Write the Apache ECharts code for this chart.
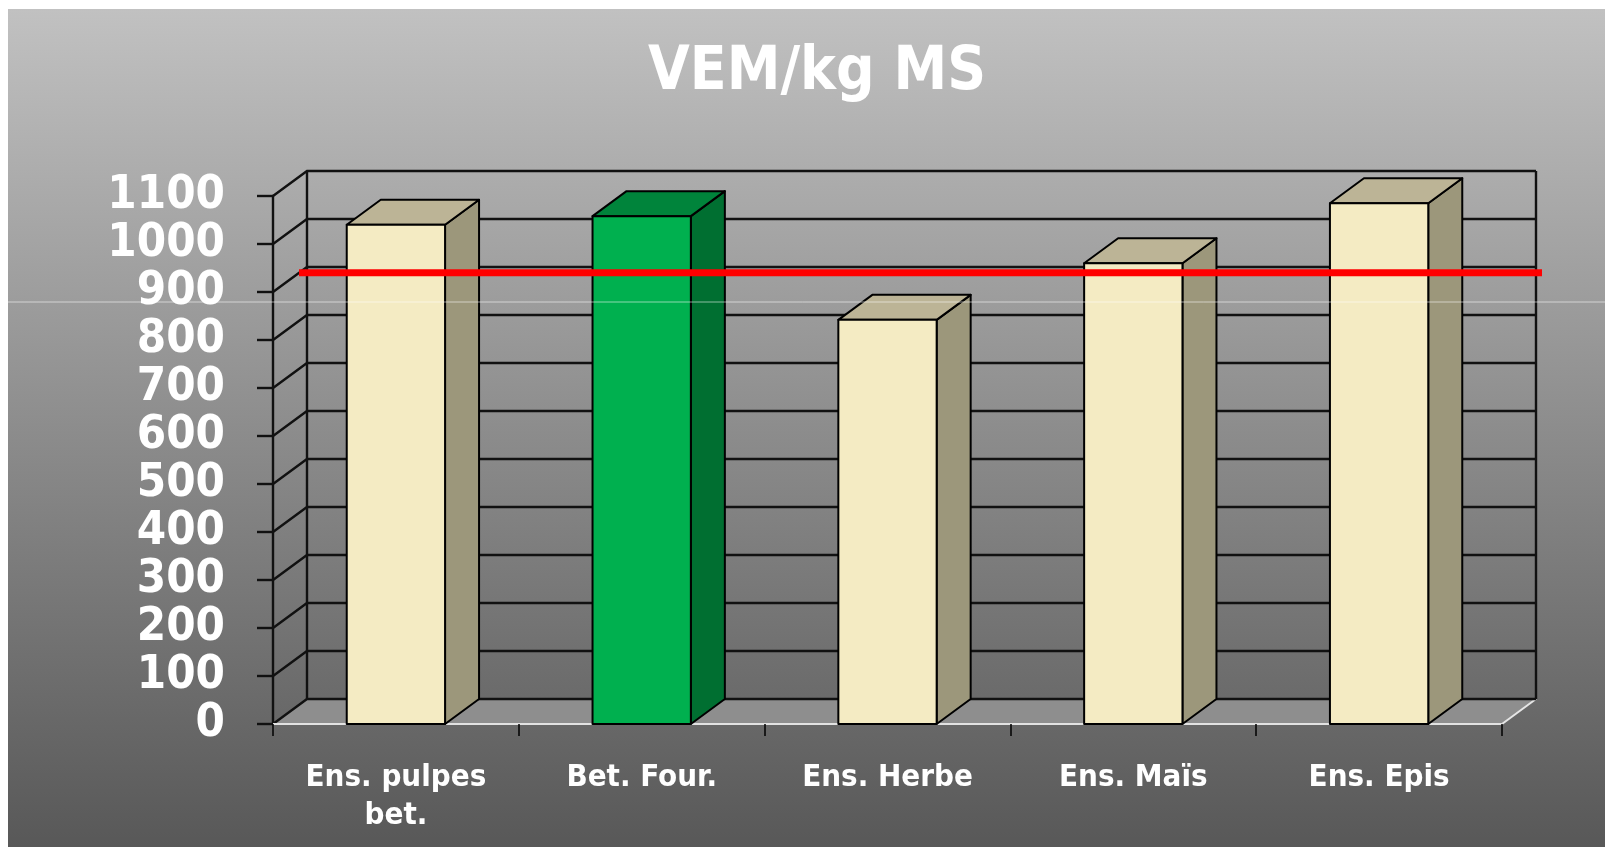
<!DOCTYPE html>
<html>
<head>
    <meta charset="utf-8" />
    <title>VEM/kg MS</title>
    <script src="https://cdn.jsdelivr.net/npm/echarts@6/dist/echarts.min.js"></script>
    <style>
        html, body { margin: 0; padding: 0; background: #ffffff; }
        #main { width: 1605px; height: 847px; }
    </style>
</head>
<body>
<div id="main"></div>
<script type="text/javascript">
    // donnees
    var categories = ['Ens. pulpes\nbet.', 'Bet. Four.', 'Ens. Herbe', 'Ens. Maïs', 'Ens. Epis'];
    var values = [1040, 1058, 842, 960, 1085];
    var yTicks = [0, 100, 200, 300, 400, 500, 600, 700, 800, 900, 1000, 1100];
    var seuil = 940;              // ligne rouge
    var highlight = 'Bet. Four.'; // barre verte

    // profondeur de la vue 3D (pixels)
    var DX = 34, DY = -25;
    var labelFont = "'DejaVu Sans Condensed', 'DejaVu Sans', sans-serif";

    var myChart = echarts.init(document.getElementById('main'));

    function bounds(api) {
        var bw = api.size([1, 0])[0];
        var x0 = api.coord([0, 0])[0] - bw / 2;
        var x1 = api.coord([categories.length - 1, 0])[0] + bw / 2;
        return { bw: bw, x0: x0, x1: x1 };
    }

    // murs, sol et quadrillage
    function renderWalls(params, api) {
        var b = bounds(api);
        var x0 = b.x0, x1 = b.x1;
        var y0 = api.coord([0, 0])[1];
        var yTop = api.coord([0, yTicks[yTicks.length - 1]])[1];
        var children = [];
        var black = { stroke: '#111', lineWidth: 2.4, fill: null };
        // sol
        children.push({
            type: 'polygon',
            shape: { points: [[x0, y0], [x1, y0], [x1 + DX, y0 + DY], [x0 + DX, y0 + DY]] },
            style: { fill: '#8e8e8e' }
        });
        children.push({
            type: 'polyline',
            shape: { points: [[x1, y0], [x1 + DX, y0 + DY]] },
            style: { stroke: '#e6e6e6', lineWidth: 2, fill: null }
        });
        yTicks.forEach(function (v) {
            var y = api.coord([0, v])[1];
            children.push({
                type: 'polyline',
                shape: { points: [[x0, y], [x0 + DX, y + DY], [x1 + DX, y + DY]] },
                style: black
            });
        });
        children.push({
            type: 'line',
            shape: { x1: x0 + DX, y1: yTop + DY, x2: x0 + DX, y2: y0 + DY },
            style: black
        });
        children.push({
            type: 'line',
            shape: { x1: x1 + DX, y1: yTop + DY, x2: x1 + DX, y2: y0 + DY },
            style: black
        });
        return { type: 'group', children: children };
    }

    // barres en 3D
    function renderBar(params, api) {
        var b = bounds(api);
        var idx = api.value(0);
        var top = api.coord([idx, api.value(1)]);
        var base = api.coord([idx, 0])[1];
        var w = b.bw * 0.4;
        var l = top[0] - w / 2, r = top[0] + w / 2, t = top[1];
        var green = categories[idx] === highlight;
        var front = green ? '#00b04f' : '#f4ebc3';
        var topC = green ? '#00843b' : '#bcb496';
        var side = green ? '#006f31' : '#9c977b';
        var edge = { stroke: '#000', lineWidth: 2, lineJoin: 'round' };
        return {
            type: 'group',
            children: [
                { type: 'polygon', shape: { points: [[r, t], [r + DX, t + DY], [r + DX, base + DY], [r, base]] },
                  style: Object.assign({ fill: side }, edge) },
                { type: 'polygon', shape: { points: [[l, t], [l + DX, t + DY], [r + DX, t + DY], [r, t]] },
                  style: Object.assign({ fill: topC }, edge) },
                { type: 'rect', shape: { x: l, y: t, width: w, height: base - t },
                  style: Object.assign({ fill: front }, edge) }
            ]
        };
    }

    function renderSeuil(params, api) {
        var b = bounds(api);
        var y = api.coord([0, api.value(0)])[1];
        return {
            type: 'line',
            shape: { x1: b.x0 + 26, y1: y, x2: b.x1 + DX + 6, y2: y },
            style: { stroke: '#ff0000', lineWidth: 7 }
        };
    }

    var option = {
        animation: false,
        title: {
            text: 'VEM/kg MS',
            left: 812,
            top: 38,
            textAlign: 'center',
            textStyle: { color: '#ffffff', fontSize: 60, fontWeight: 'bold', fontFamily: labelFont }
        },
        graphic: [
            {
                type: 'rect', z: -10, silent: true,
                shape: { x: 8, y: 9, width: 1597, height: 838 },
                style: {
                    fill: new echarts.graphic.LinearGradient(0, 0, 0, 1, [
                        { offset: 0, color: '#c1c1c1' },
                        { offset: 1, color: '#585858' }
                    ])
                }
            },
            {
                type: 'line', z: 100, silent: true,
                shape: { x1: 0, y1: 302, x2: 1605, y2: 302 },
                style: { stroke: 'rgba(255,255,255,0.55)', lineWidth: 1 }
            }
        ],
        grid: { left: 273, right: 103, top: 196, bottom: 123 },
        xAxis: {
            type: 'category',
            data: categories,
            z: 3,
            axisLine: { lineStyle: { color: '#e2e2e2', width: 2 } },
            axisTick: { show: true, length: 12, lineStyle: { color: '#000', width: 1.5 } },
            axisLabel: {
                color: '#ffffff', fontSize: 31, fontWeight: 'bold', fontFamily: labelFont,
                lineHeight: 38, margin: 35, interval: 0
            },
            splitLine: { show: false }
        },
        yAxis: {
            type: 'value',
            min: 0,
            max: 1100,
            interval: 100,
            z: 3,
            axisLine: { show: true, lineStyle: { color: '#111', width: 2.4 } },
            axisTick: { show: true, length: 16, lineStyle: { color: '#111', width: 2.4 } },
            axisLabel: {
                color: '#ffffff', fontSize: 47, fontWeight: 'bold', fontFamily: labelFont, margin: 48,
                formatter: function (v) { return String(v); }
            },
            splitLine: { show: false }
        },
        series: [
            { type: 'custom', z: 1, clip: false, renderItem: renderWalls, data: [[0, 0]] },
            {
                type: 'custom', z: 4, clip: false, renderItem: renderBar,
                data: values.map(function (v, i) { return [i, v]; })
            },
            { type: 'custom', z: 5, clip: false, renderItem: renderSeuil, data: [[seuil]] }
        ]
    };
    myChart.setOption(option);
</script>
</body>
</html>
